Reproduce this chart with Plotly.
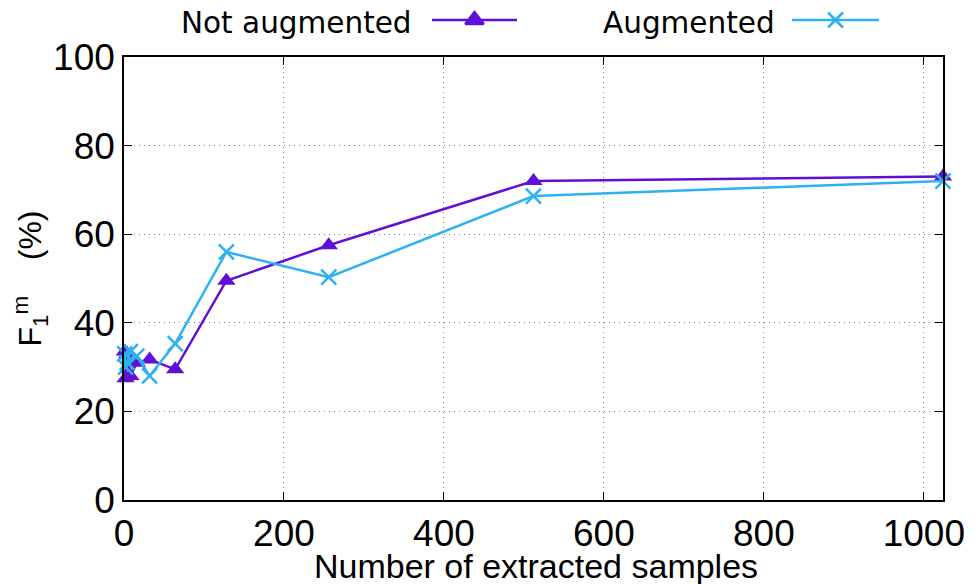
import plotly.graph_objects as go

samples = [1, 2, 4, 8, 16, 32, 64, 128, 256, 512, 1024]
not_augmented = [33.5, 27.5, 33.0, 28.0, 31.0, 31.7, 29.5, 49.5, 57.5, 72.0, 73.0]
augmented = [33.0, 30.0, 31.0, 33.5, 32.5, 28.0, 35.3, 56.0, 50.3, 68.6, 72.0]
x_ticks = [0, 200, 400, 600, 800, 1000]
y_ticks = [0, 20, 40, 60, 80, 100]
series_names = ["Not augmented", "Augmented"]
x_title = "Number of extracted samples"
y_title = "F<sub>1</sub><sup>m</sup>&nbsp;&nbsp;&nbsp;&nbsp;(%)"

PURPLE = "#6010d4"
CYAN = "#2cb2f0"
W, H = 980, 584
OX, OY = 6, 8  # page body default margin offset
L, R, T, B = 122 - OX, 941 - OX, 57 - OY, 500 - OY

fig = go.Figure()
fig.add_trace(go.Scatter(
    x=samples, y=not_augmented, mode="lines+markers", name=series_names[0],
    line=dict(color=PURPLE, width=2.5),
    marker=dict(symbol="triangle-up", size=16, color=PURPLE),
    cliponaxis=False, showlegend=False))
fig.add_trace(go.Scatter(
    x=samples, y=augmented, mode="lines+markers", name=series_names[1],
    line=dict(color=CYAN, width=2.5),
    marker=dict(symbol="x-thin", size=15, color=CYAN, line=dict(color=CYAN, width=2.5)),
    cliponaxis=False, showlegend=False))

# legend samples (gnuplot style: text, then line sample) on a pixel-space axis
LY = 20 - OY
legend_items = [
    (series_names[0], PURPLE, "triangle-up", 412 - OX, 430 - OX, 515 - OX),
    (series_names[1], CYAN, "x-thin", 775 - OX, 790 - OX, 877 - OX),
]
for name, col, sym, tx, lx0, lx1 in legend_items:
    fig.add_trace(go.Scatter(x=[lx0, lx1], y=[LY, LY], mode="lines",
                             line=dict(color=col, width=2.5), xaxis="x2", yaxis="y2",
                             showlegend=False, hoverinfo="skip", cliponaxis=False))
    fig.add_trace(go.Scatter(x=[(lx0 + lx1) / 2], y=[LY], mode="markers",
                             marker=dict(symbol=sym, size=16 if sym == "triangle-up" else 15,
                                         color=col, line=dict(color=col, width=2.5)),
                             xaxis="x2", yaxis="y2", showlegend=False, hoverinfo="skip",
                             cliponaxis=False))
    fig.add_annotation(x=tx, y=LY + 3, xref="x2", yref="y2", text=name, showarrow=False,
                       xanchor="right", yanchor="middle",
                       font=dict(family="DejaVu Sans", size=29.5, color="black"))

# x-axis title placed as text below the tick labels
fig.add_annotation(x=(L + R) / 2 + 2, y=566 - OY, xref="x2", yref="y2", text=x_title,
                   showarrow=False, xanchor="center", yanchor="middle",
                   font=dict(family="Liberation Sans", size=34, color="black"))

axis_common = dict(showline=True, linecolor="black", linewidth=1.5, mirror="allticks",
                   ticks="inside", ticklen=8, tickcolor="black", tickwidth=1.2,
                   showgrid=True, gridcolor="#808080", griddash="1px,4px", gridwidth=1,
                   zeroline=False, automargin=False,
                   tickfont=dict(family="Liberation Sans", size=37, color="black"))

fig.update_layout(
    width=W, height=H,
    margin=dict(l=0, r=0, t=0, b=0, autoexpand=False),
    paper_bgcolor="white", plot_bgcolor="rgba(0,0,0,0)",
    xaxis=dict(domain=[L / W, R / W], range=[0, 1024], tickvals=x_ticks,
               ticktext=[str(v) for v in x_ticks],
               anchor="y", **axis_common),
    yaxis=dict(domain=[1 - B / H, 1 - T / H], range=[0, 100], tickvals=y_ticks,
               ticktext=[str(v) for v in y_ticks],
               title=dict(text=y_title, standoff=14,
                          font=dict(family="Liberation Sans", size=32, color="black")),
               anchor="x", **axis_common),
    xaxis2=dict(domain=[0, 1], range=[0, W], visible=False, anchor="y2", fixedrange=True,
                automargin=False),
    yaxis2=dict(domain=[0, 1], range=[H, 0], visible=False, anchor="x2", fixedrange=True,
                automargin=False),
    showlegend=False,
)

fig.write_html("out.html")
